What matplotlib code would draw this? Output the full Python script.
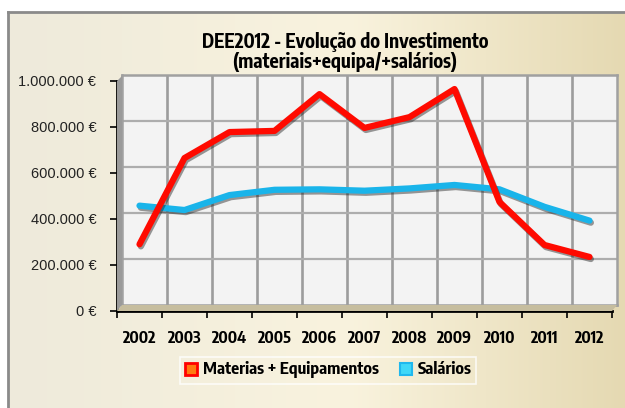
import numpy as np
import matplotlib.pyplot as plt
import matplotlib.patheffects as pe
from matplotlib.patches import Polygon
from matplotlib.lines import Line2D
from matplotlib.ticker import FuncFormatter

anos = ["2002", "2003", "2004", "2005", "2006", "2007", "2008", "2009", "2010", "2011", "2012"]
materiais = [290000, 665000, 778000, 783000, 943000, 796000, 843000, 965000, 474000, 287000, 235000]
salarios = [458000, 439000, 504000, 527000, 529000, 523000, 533000, 548000, 529000, 453000, 393000]

plt.rcParams["font.family"] = ["Liberation Sans", "DejaVu Sans"]
negrito = ["Encode Sans Condensed", "Liberation Sans", "DejaVu Sans"]

W, H = 625, 408
fig = plt.figure(figsize=(W / 100, H / 100), dpi=100)


def caixa(x0, y0, x1, y1):
    return [x0 / W, 1 - y1 / H, (x1 - x0) / W, (y1 - y0) / H]


def fx(x):
    return x / W


def fy(y):
    return 1 - y / H


# fundo da área do gráfico com gradiente bege
bg = fig.add_axes(caixa(8, 12, 626, 409))
cores = np.array([[238, 234, 219], [249, 243, 222], [229, 217, 178]]) / 255
t = np.linspace(0, 1, 300)
grad = np.empty((1, 300, 3))
for c in range(3):
    grad[0, :, c] = np.interp(t, [0, 0.55, 1], cores[:, c])
bg.imshow(grad, aspect="auto", extent=[0, 1, 0, 1])
bg.set_xticks([])
bg.set_yticks([])
for s in ["right", "bottom"]:
    bg.spines[s].set_visible(False)
for s in ["left", "top"]:
    bg.spines[s].set_color("#8a8a8a")
    bg.spines[s].set_linewidth(2)

# parede de fundo (efeito 3D)
parede = fig.add_axes(caixa(122, 75, 617, 305))
parede.set_facecolor("#f3f3f3")
parede.set_xlim(0, 11)
parede.set_ylim(0, 1000000)
for i in range(1, 11):
    parede.axvline(i, color="#9c9c9c", lw=1.9)
for v in range(200000, 1000000, 200000):
    parede.axhline(v, color="#adadad", lw=1.6)
parede.set_xticks([])
parede.set_yticks([])
for s in parede.spines.values():
    s.set_color("#a0a0a0")
    s.set_linewidth(1.8)

lado = Polygon([(fx(117), fy(81)), (fx(122), fy(76)), (fx(122), fy(305)), (fx(117), fy(311))],
               closed=True, transform=fig.transFigure, facecolor="#9a9a9a", edgecolor="none")
chao = Polygon([(fx(117), fy(311)), (fx(122), fy(305)), (fx(617), fy(305)), (fx(612), fy(311))],
               closed=True, transform=fig.transFigure, facecolor="#c6bd9e", edgecolor="none")
fig.add_artist(lado)
fig.add_artist(chao)

# eixos da frente com as séries
ax = fig.add_axes(caixa(117, 81, 612, 311))
ax.patch.set_alpha(0)
ax.set_xlim(0, 11)
ax.set_ylim(0, 1000000)
x = np.arange(len(anos)) + 0.5

sombra = [pe.SimpleLineShadow(offset=(1, -1.5), shadow_color="#202020", alpha=0.45), pe.Normal()]
ax.plot(x, salarios, color="#19b4ea", lw=4.5, solid_capstyle="round", solid_joinstyle="round",
        path_effects=sombra, zorder=3)
ax.plot(x, materiais, color="#ff0a00", lw=4.5, solid_capstyle="round", solid_joinstyle="round",
        path_effects=sombra, zorder=4)

for s in ["top", "right"]:
    ax.spines[s].set_visible(False)
for s in ["left", "bottom"]:
    ax.spines[s].set_color("black")
    ax.spines[s].set_linewidth(2)

ax.set_xticks(range(12))
ax.set_xticklabels([])
ax.set_xticks(x, minor=True)
ax.set_xticklabels(anos, minor=True, fontsize=11.5, fontweight="bold", family=negrito)
ax.tick_params(axis="x", which="major", length=5, width=1.2, direction="out")
ax.tick_params(axis="x", which="minor", length=0, pad=14)

ax.set_yticks(range(0, 1000001, 200000))
ax.yaxis.set_major_formatter(FuncFormatter(lambda v, p: f"{int(v):,} €".replace(",", ".")))
ax.tick_params(axis="y", length=5, width=1.2, labelsize=10.5, labelcolor="#222222", pad=10)

fig.text(fx(345), fy(52), "DEE2012 - Evolução do Investimento\n(materiais+equipa/+salários)",
         ha="center", va="center", fontsize=13.8, fontweight="bold", linespacing=1.05,
         family=negrito)

# legenda
marcas = [
    Line2D([], [], marker="s", ls="none", markersize=9, markerfacecolor="#ff7a10",
           markeredgecolor="#ff0000", markeredgewidth=2),
    Line2D([], [], marker="s", ls="none", markersize=9, markerfacecolor="#40d8f8",
           markeredgecolor="#20b8ee", markeredgewidth=1.5),
]
leg = fig.legend(marcas, ["Materias + Equipamentos", "Salários"], loc="center",
                 bbox_to_anchor=(fx(328), fy(370)), ncol=2, frameon=True, fancybox=False,
                 prop={"size": 12, "weight": "bold", "family": negrito}, handlelength=0.8,
                 handletextpad=0.3, columnspacing=1.2, borderpad=0.3)
leg.get_frame().set_facecolor("none")
leg.get_frame().set_edgecolor("white")
leg.get_frame().set_linewidth(1.2)

fig.savefig("out.png", dpi=100)
